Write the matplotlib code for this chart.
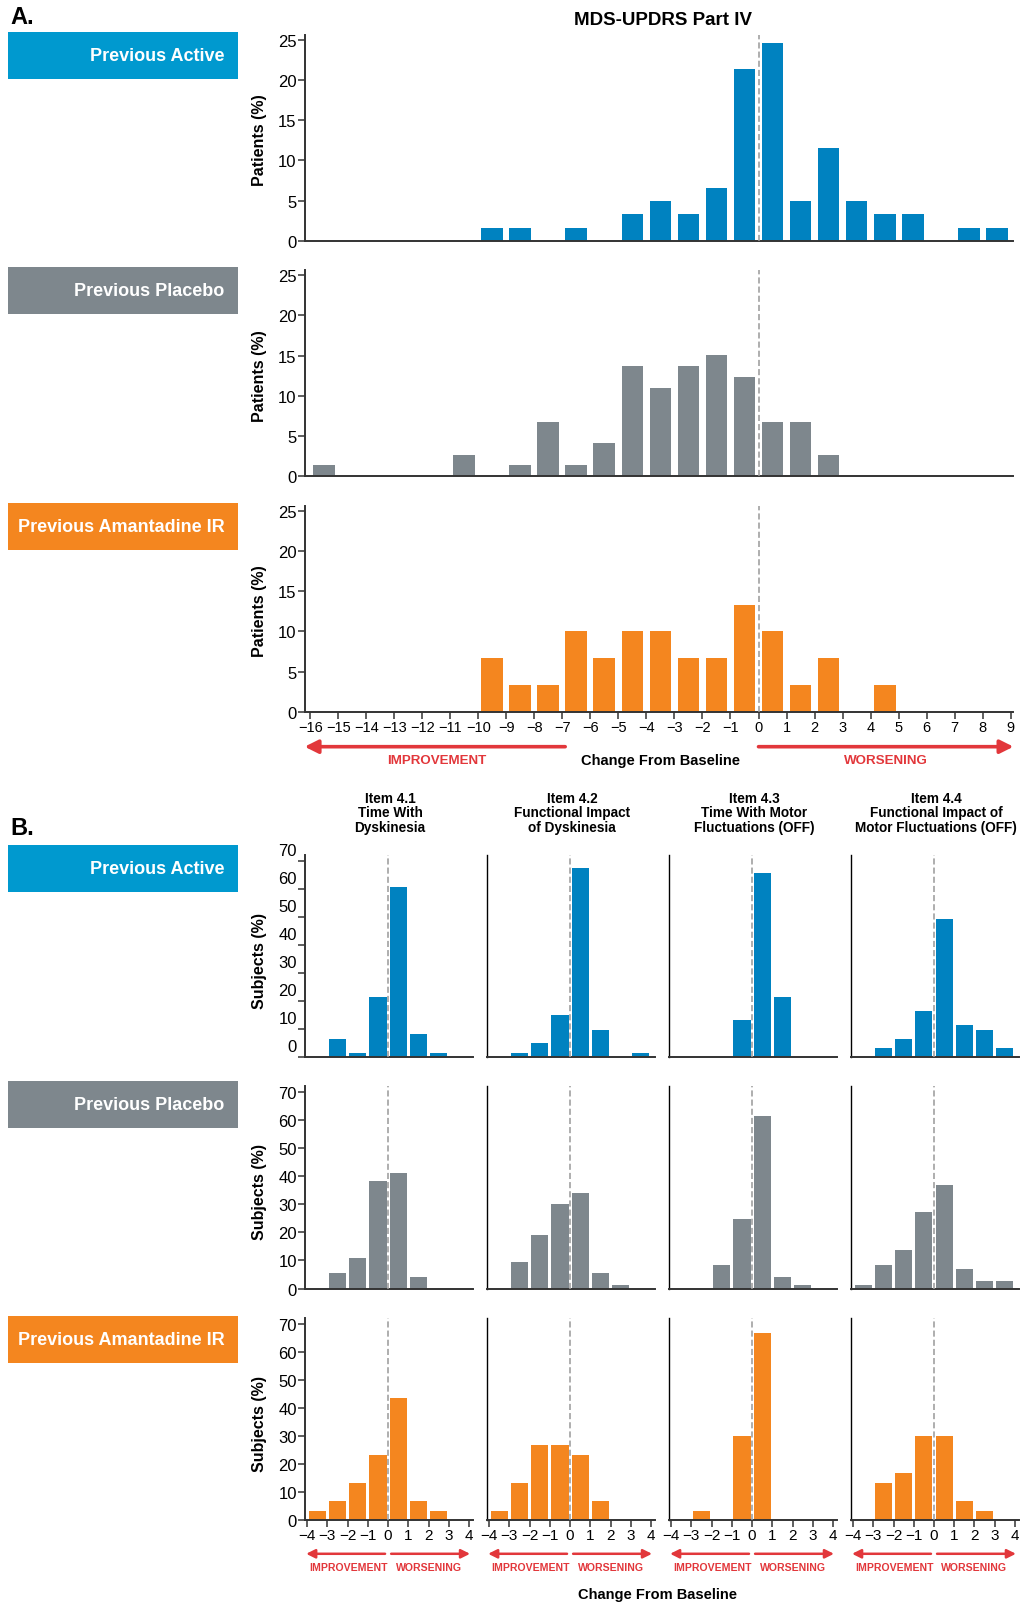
import numpy as np
import matplotlib
matplotlib.use('Agg')
import matplotlib.pyplot as plt
import matplotlib.transforms as mtransforms
from matplotlib.patches import Rectangle

# no condensed face is installed, so sizes are picked to match text widths
plt.rcParams['font.family'] = ['Liberation Sans', 'DejaVu Sans']

# ---- data -------------------------------------------------------------
groups = ['Previous Active', 'Previous Placebo', 'Previous Amantadine IR']
bar_colors = ['#0082c0', '#7e878d', '#f4861f']
box_colors = ['#0099cf', '#7e878d', '#f4861f']

# Part A: MDS-UPDRS Part IV total, bins -16 .. 8 (bar k covers k..k+1)
bins_a = list(range(-16, 9))
active_a = [0, 0, 0, 0, 0, 0, 1.6, 1.6, 0, 1.6, 0, 3.3, 4.9, 3.3, 6.6,
            21.3, 24.6, 4.9, 11.5, 4.9, 3.3, 3.3, 0, 1.6, 1.6]
placebo_a = [1.4, 0, 0, 0, 0, 2.7, 0, 1.4, 6.8, 1.4, 4.1, 13.7, 11.0, 13.7,
             15.1, 12.3, 6.8, 6.8, 2.7, 0, 0, 0, 0, 0, 0]
amantadine_a = [0, 0, 0, 0, 0, 0, 6.7, 3.3, 3.3, 10.0, 6.7, 10.0, 10.0, 6.7,
                6.7, 13.3, 10.0, 3.3, 6.7, 0, 3.3, 0, 0, 0, 0]
xticks_a = list(range(-16, 10))

# Part B: items 4.1 - 4.4, bins -4 .. 3
items = ['Item 4.1\nTime With\nDyskinesia',
         'Item 4.2\nFunctional Impact\nof Dyskinesia',
         'Item 4.3\nTime With Motor\nFluctuations (OFF)',
         'Item 4.4\nFunctional Impact of\nMotor Fluctuations (OFF)']
bins_b = list(range(-4, 4))
active_b = [
    [0, 6.6, 1.6, 21.3, 60.7, 8.2, 1.6, 0],
    [0, 1.6, 4.9, 14.8, 67.2, 9.8, 0, 1.6],
    [0, 0, 0, 13.1, 65.6, 21.3, 0, 0],
    [0, 3.3, 6.6, 16.4, 49.2, 11.5, 9.8, 3.3],
]
placebo_b = [
    [0, 5.5, 11.0, 38.4, 41.1, 4.1, 0, 0],
    [0, 9.6, 19.2, 30.1, 34.2, 5.5, 1.4, 0],
    [0, 0, 8.2, 24.7, 61.6, 4.1, 1.4, 0],
    [1.4, 8.2, 13.7, 27.4, 37.0, 6.8, 2.7, 2.7],
]
amantadine_b = [
    [3.3, 6.7, 13.3, 23.3, 43.3, 6.7, 3.3, 0],
    [3.3, 13.3, 26.7, 26.7, 23.3, 6.7, 0, 0],
    [0, 3.3, 0, 30.0, 66.7, 0, 0, 0],
    [0, 13.3, 16.7, 30.0, 30.0, 6.7, 3.3, 0],
]
xticks_b = list(range(-4, 5))

RED = '#e2373b'
SPINE = '#333333'

fig = plt.figure(figsize=(10.24, 16.06), dpi=100)


# layout is measured on a 1000 x 1568 copy of the reference
def rect(x0, ytop, x1, ybot):
    return [x0 / 1000, 1 - ybot / 1568, (x1 - x0) / 1000, (ybot - ytop) / 1568]


def fy(y):
    return 1 - y / 1568


def style_axes(ax):
    for s in ['top', 'right']:
        ax.spines[s].set_visible(False)
    for s in ['left', 'bottom']:
        ax.spines[s].set_color(SPINE)
        ax.spines[s].set_linewidth(1.4)
    ax.tick_params(direction='out', length=5, width=1.1, color=SPINE,
                   labelsize=12, pad=1)
    ax.axvline(0, color='#999999', lw=1.1, ls=(0, (4, 2)), zorder=3)


def group_box(y, name, color):
    fig.add_artist(Rectangle((8 / 1000, fy(y + 46)), 224 / 1000, 46 / 1568,
                             transform=fig.transFigure, color=color, lw=0))
    fig.text(219 / 1000, fy(y + 23), name, color='white', fontsize=13,
             fontweight='bold', ha='right', va='center')


def arrow(ax, y, tail, tip, lw, ms):
    tr = mtransforms.blended_transform_factory(ax.transData, fig.transFigure)
    ax.annotate('', xy=(tip, fy(y)), xytext=(tail, fy(y)), xycoords=tr,
                textcoords=tr, annotation_clip=False,
                arrowprops=dict(arrowstyle='-|>', color=RED, lw=lw,
                                mutation_scale=ms, shrinkA=0, shrinkB=0))


def minus(ticks):
    return [str(t).replace('-', '\u2212') for t in ticks]


# ---- Part A ------------------------------------------------------------
fig.text(10 / 1000, fy(17), 'A.', fontsize=17, fontweight='heavy',
         ha='left', va='center')
fig.text(647 / 1000, fy(20), 'MDS-UPDRS Part IV', fontsize=13.5,
         fontweight='bold', ha='center', va='center')

data_a = [active_a, placebo_a, amantadine_a]
base_a = [236, 466, 696]
box_a = [32, 262, 492]
for i in range(3):
    ax = fig.add_axes(rect(297.5, base_a[i] - 25.6 * 7.85, 989.7, base_a[i]))
    ax.bar(np.array(bins_a) + 0.5, data_a[i], width=0.78,
           color=bar_colors[i], zorder=2)
    ax.set_xlim(-16.2, 9.1)
    ax.set_ylim(0, 25.6)
    ax.set_yticks([0, 5, 10, 15, 20, 25])
    style_axes(ax)
    if i < 2:
        ax.tick_params(bottom=False, labelbottom=False)
    else:
        ax.set_xticks(xticks_a)
        ax.set_xticklabels(minus(xticks_a), fontsize=10.5)
    group_box(box_a[i], groups[i], box_colors[i])
    fig.text(253 / 1000, fy(base_a[i] - 99), 'Patients (%)', rotation=90,
             fontsize=11.5, fontweight='bold', ha='center', va='center')
    if i == 2:
        arrow(ax, 730, -6.9, -16.2, 2.6, 20)
        arrow(ax, 730, 0.0, 9.1, 2.6, 20)
        tr = mtransforms.blended_transform_factory(ax.transData, fig.transFigure)
        ax.text(-11.5, fy(743), 'IMPROVEMENT', transform=tr, color=RED,
                fontsize=9.6, fontweight='bold', ha='center', va='center')
        ax.text(4.55, fy(743), 'WORSENING', transform=tr, color=RED,
                fontsize=9.6, fontweight='bold', ha='center', va='center')
        ax.text(-3.5, fy(743), 'Change From Baseline', transform=tr,
                fontsize=10.5, fontweight='bold', ha='center', va='center')

# ---- Part B ------------------------------------------------------------
fig.text(10 / 1000, fy(809), 'B.', fontsize=17, fontweight='heavy',
         ha='left', va='center')

data_b = [active_b, placebo_b, amantadine_b]
base_b = [1033, 1259, 1485]
box_b = [826, 1056, 1286]
col_step = 177.7
for c in range(4):
    fig.text((381 + col_step * c) / 1000, fy(794), items[c], fontsize=9.8,
             fontweight='bold', ha='center', va='center', linespacing=1.05)

for r in range(3):
    group_box(box_b[r], groups[r], box_colors[r])
    fig.text(253 / 1000, fy(base_b[r] - 95), 'Subjects (%)', rotation=90,
             fontsize=11.5, fontweight='bold', ha='center', va='center')
    for c in range(4):
        x0 = 298 + col_step * c
        ax = fig.add_axes(rect(x0, base_b[r] - 72 * 2.74, x0 + 164, base_b[r]))
        ax.bar(np.array(bins_b) + 0.5, data_b[r][c], width=0.85,
               color=bar_colors[r], zorder=2)
        ax.set_xlim(-4.1, 4.2)
        ax.set_ylim(0, 72)
        ax.set_yticks(range(0, 71, 10))
        style_axes(ax)
        if c > 0:
            ax.tick_params(left=False, labelleft=False)
            ax.spines['left'].set_color('black')
            ax.spines['left'].set_linewidth(1.0)
        elif r == 0:
            # labels in the first row sit a little above their ticks
            off = mtransforms.ScaledTranslation(0, 0.12, fig.dpi_scale_trans)
            for lab in ax.get_yticklabels():
                lab.set_transform(lab.get_transform() + off)
        if r < 2:
            ax.tick_params(bottom=False, labelbottom=False)
        else:
            ax.set_xticks(xticks_b)
            ax.set_xticklabels(minus(xticks_b), fontsize=11)
            arrow(ax, 1518, -0.15, -4.05, 1.8, 13)
            arrow(ax, 1518, 0.15, 4.05, 1.8, 13)
            tr = mtransforms.blended_transform_factory(ax.transData, fig.transFigure)
            ax.text(-1.95, fy(1531), 'IMPROVEMENT', transform=tr, color=RED,
                    fontsize=7.6, fontweight='bold', ha='center', va='center')
            ax.text(2.0, fy(1531), 'WORSENING', transform=tr, color=RED,
                    fontsize=7.6, fontweight='bold', ha='center', va='center')

fig.text(642 / 1000, fy(1557), 'Change From Baseline', fontsize=10.5,
         fontweight='bold', ha='center', va='center')

fig.savefig('out.png', dpi=100)
